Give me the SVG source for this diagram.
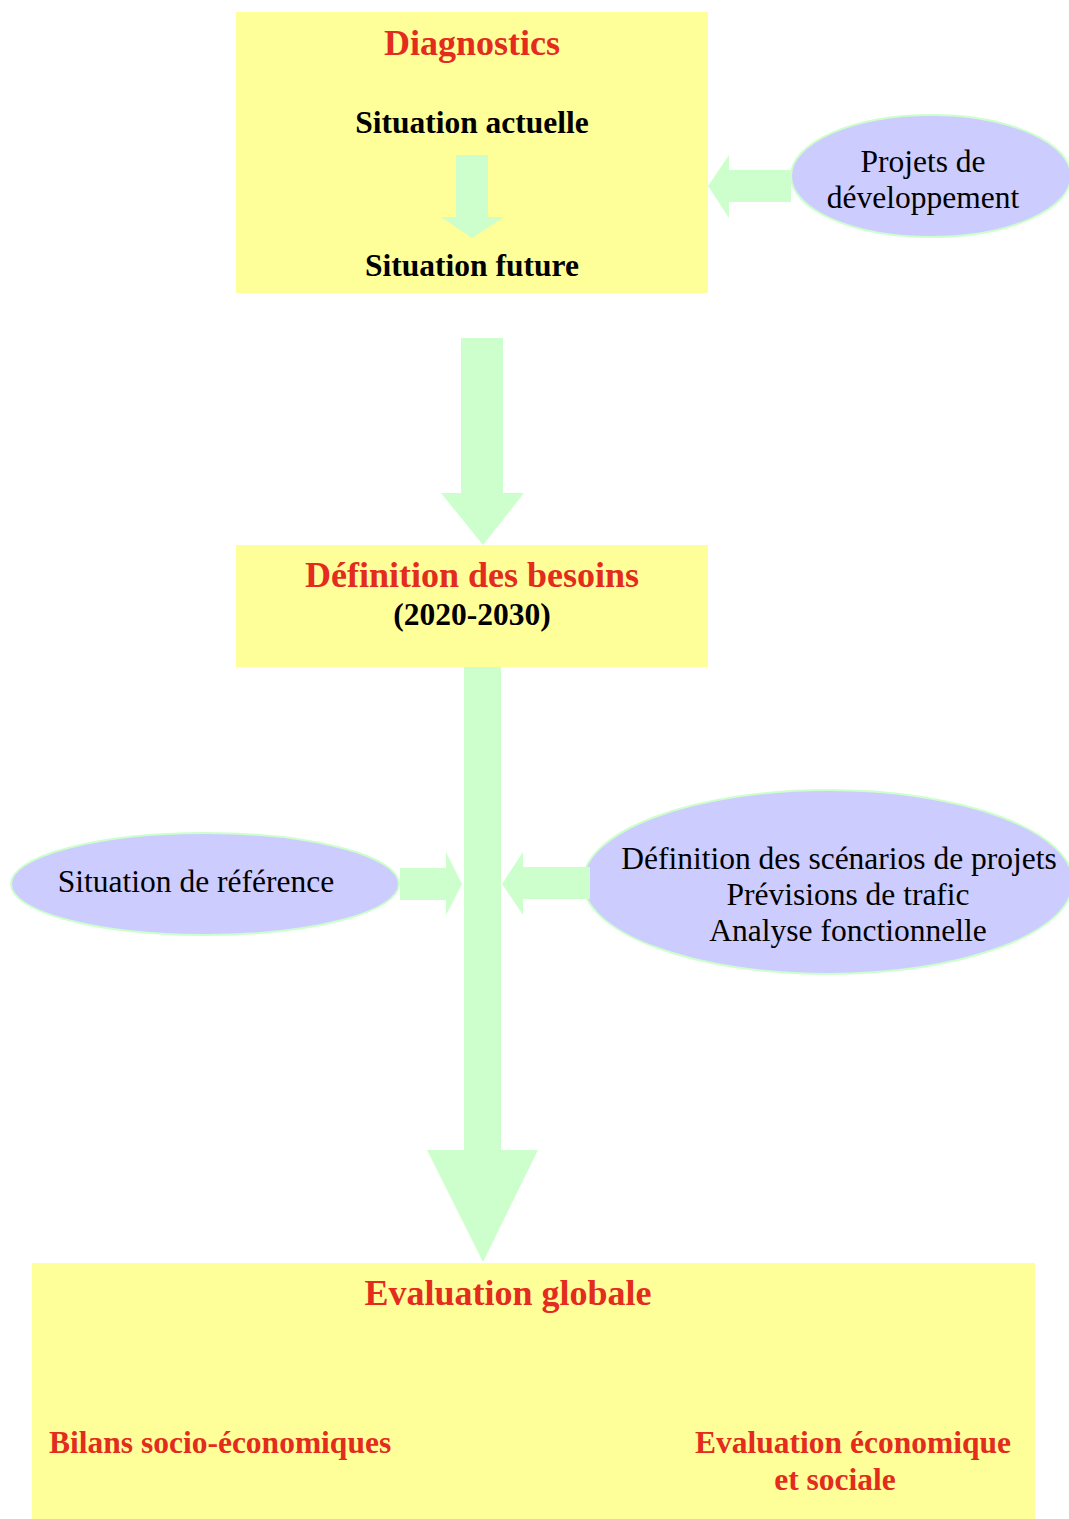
<svg xmlns="http://www.w3.org/2000/svg" width="1069" height="1519" viewBox="0 0 1069 1519">
<style>
.box{fill:#FFFF99}
.ell{fill:#CCCCFF;stroke:#CCFFCC;stroke-width:2}
.arr{fill:#CCFFCC}
.t{font-family:"Liberation Serif","Times New Roman",serif;text-anchor:middle}
.red{fill:#E32B1E;font-weight:bold;font-size:36px}
.blk{fill:#000;font-weight:bold;font-size:31.5px}
.reg{fill:#000;font-size:31.5px}
.redm{fill:#E32B1E;font-weight:bold;font-size:31.5px}
</style>
<rect width="1069" height="1519" fill="#fff"/>
<g id="diagnostics">
<rect class="box" x="236" y="12" width="472" height="281"/>
<text class="t red" x="472" y="55">Diagnostics</text>
<text class="t blk" x="472" y="133">Situation actuelle</text>
<polygon class="arr" points="456,155 488,155 488,217 504,217 472,238 441,217 456,217"/>
<text class="t blk" x="472" y="276">Situation future</text>
</g>
<g id="projets">
<ellipse class="ell" cx="931" cy="176" rx="140" ry="61"/>
<text class="t reg" x="923" y="172">Projets de</text>
<text class="t reg" x="923" y="208">développement</text>
</g>
<g id="besoins">
<rect class="box" x="236" y="545" width="472" height="122"/>
<text class="t red" x="472" y="587">Définition des besoins</text>
<text class="t blk" x="472" y="625">(2020-2030)</text>
</g>
<g id="reference">
<ellipse class="ell" cx="205" cy="884" rx="194" ry="51"/>
<text class="t reg" x="196" y="892">Situation de référence</text>
</g>
<g id="scenarios">
<ellipse class="ell" cx="828" cy="882" rx="245" ry="92"/>
<text class="t reg" x="839" y="869">Définition des scénarios de projets</text>
<text class="t reg" x="848" y="905">Prévisions de trafic</text>
<text class="t reg" x="848" y="941">Analyse fonctionnelle</text>
</g>
<g id="evaluation">
<rect class="box" x="32" y="1263" width="1003" height="256"/>
<text class="t red" x="508" y="1305">Evaluation globale</text>
<text class="t redm" x="49" y="1453" style="text-anchor:start">Bilans socio-économiques</text>
<text class="t redm" x="853" y="1453">Evaluation économique</text>
<text class="t redm" x="835" y="1490">et sociale</text>
</g>
<g id="connectors">
<polygon class="arr" points="791,170 729,170 729,155 708,186 729,218 729,202 791,202"/>
<polygon class="arr" points="461,338 503,338 503,493 524,493 483,545 441,493 461,493"/>
<polygon class="arr" points="464,667 501,667 501,1150 538,1150 483,1262 427,1150 464,1150"/>
<polygon class="arr" points="400,868 446,868 446,852 462,884 446,915 446,900 400,900"/>
<polygon class="arr" points="590,867 523,867 523,852 502,884 523,915 523,899 590,899"/>
</g>
</svg>
